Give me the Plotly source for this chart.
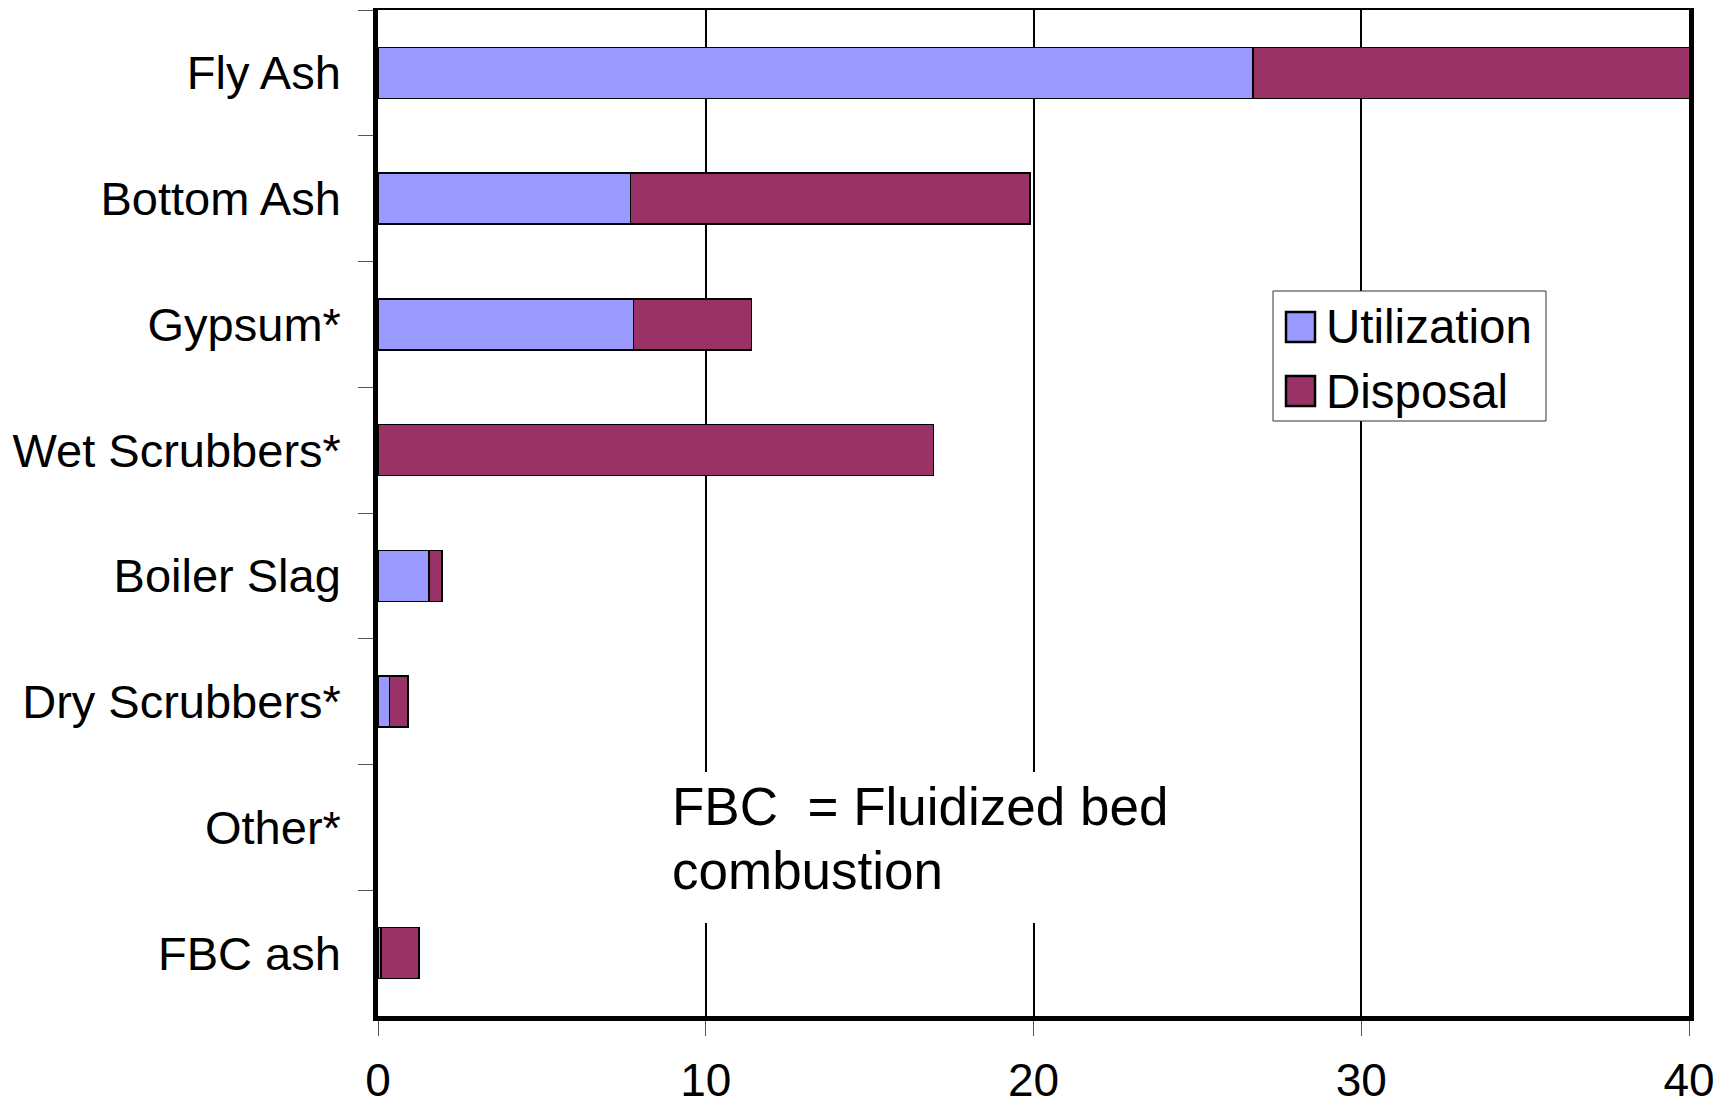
import plotly.graph_objects as go

# data (million tons)
categories = ["Fly Ash", "Bottom Ash", "Gypsum*", "Wet Scrubbers*",
              "Boiler Slag", "Dry Scrubbers*", "Other*", "FBC ash"]
utilization = [26.7, 7.7, 7.8, 0.0, 1.55, 0.35, None, 0.1]
disposal = [13.5, 12.2, 3.6, 16.95, 0.4, 0.57, None, 1.15]
x_ticks = [0, 10, 20, 30, 40]

BLUE = "#9999FF"
MAROON = "#993366"
FONT = "Liberation Sans, Arial, sans-serif"

# the page body has an 8px margin, so the figure is drawn 8px smaller and
# every pixel position below is the screenshot position minus 8
OFF = 8
W, H = 1734 - OFF, 1104 - OFF
L, R, T, B = 378 - OFF, 1689 - OFF, 10 - OFF, 1016 - OFF


def px_x(p):
    return (p - OFF - L) / (R - L)


def px_y(p):
    return (B - (p - OFF)) / (B - T)


fig = go.Figure()

fig.add_trace(go.Bar(
    y=categories, x=utilization, orientation="h", name="Utilization",
    marker=dict(color=BLUE, line=dict(color="black", width=1.6)),
))
fig.add_trace(go.Bar(
    y=categories, x=disposal, orientation="h", name="Disposal",
    marker=dict(color=MAROON, line=dict(color="black", width=1.6)),
))

# legend box (drawn by hand so the symbols can be large like the original)
fig.add_shape(type="rect", xref="paper", yref="paper",
              x0=px_x(1273), x1=px_x(1546), y0=px_y(421), y1=px_y(291),
              line=dict(color="#333333", width=1), fillcolor="white", layer="above")
for name, col, yc in [("Utilization", BLUE, 327), ("Disposal", MAROON, 391)]:
    fig.add_shape(type="rect", xref="paper", yref="paper",
                  x0=px_x(1286), x1=px_x(1315), y0=px_y(yc + 15), y1=px_y(yc - 15),
                  line=dict(color="black", width=2.5), fillcolor=col, layer="above")
    fig.add_annotation(xref="paper", yref="paper", x=px_x(1324), y=px_y(yc),
                       text=name, showarrow=False, xanchor="left", yanchor="middle",
                       font=dict(size=47.5, color="black", family=FONT))

# note about FBC: white patch over the gridlines, then two text lines
fig.add_shape(type="rect", xref="paper", yref="paper",
              x0=px_x(655), x1=px_x(1185), y0=px_y(923), y1=px_y(772),
              line=dict(width=0), fillcolor="white", layer="above")
for line, yc in [("FBC\u00a0 = Fluidized bed", 806), ("combustion", 870)]:
    fig.add_annotation(xref="paper", yref="paper", x=px_x(671), y=px_y(yc),
                       text=line, showarrow=False, xanchor="left", yanchor="middle",
                       borderpad=0,
                       font=dict(size=53, color="black", family=FONT))

fig.update_layout(
    width=W, height=H,
    barmode="stack", bargap=0.595,
    showlegend=False,
    plot_bgcolor="white", paper_bgcolor="white",
    margin=dict(l=L, r=W - R, t=T, b=H - B),
    font=dict(family=FONT, color="black"),
)
fig.update_xaxes(
    range=[0, 40], tickvals=x_ticks, automargin=False,
    showgrid=True, gridcolor="black", gridwidth=1.6,
    showline=True, linecolor="black", linewidth=4.5, mirror=True,
    ticks="outside", ticklen=15, tickcolor="#555555", tickwidth=1,
    ticklabelstandoff=5,
    tickfont=dict(size=46, color="black"),
    zeroline=False,
)
fig.update_yaxes(
    categoryorder="array", categoryarray=categories, autorange="reversed",
    automargin=False, showgrid=False,
    showline=True, linecolor="black", linewidth=4.5, mirror=True,
    ticks="outside", ticklen=15, tickcolor="#555555", tickwidth=1,
    tickson="boundaries", ticklabelstandoff=23,
    tickfont=dict(size=47, color="black"),
)

fig.write_html("out.html")
